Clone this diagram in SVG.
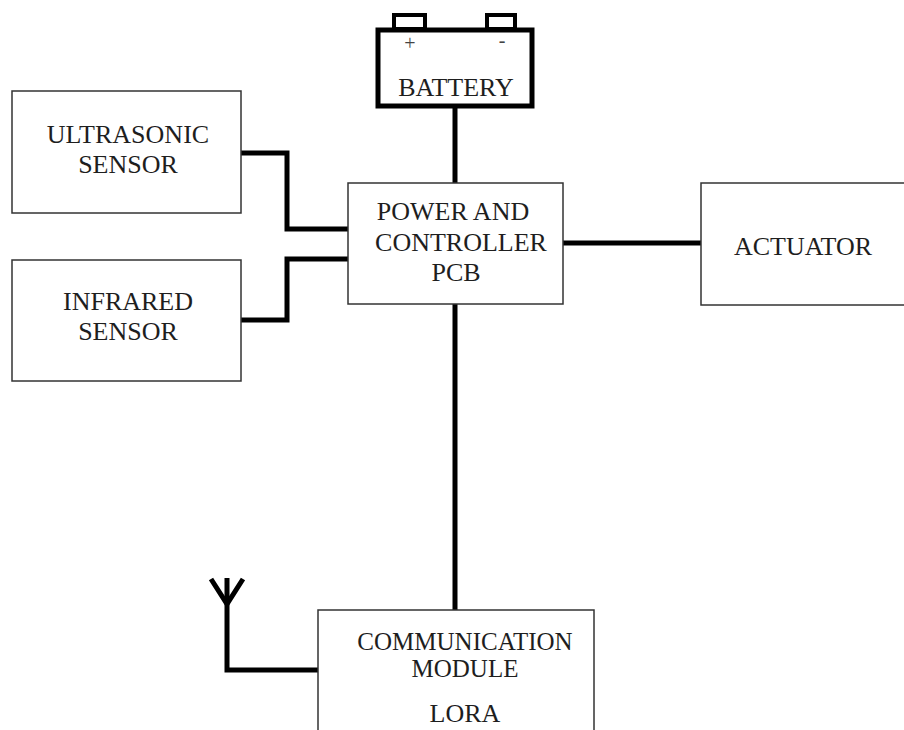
<svg xmlns="http://www.w3.org/2000/svg" width="904" height="730" viewBox="0 0 904 730">
<style>
.box{fill:#fff;stroke:#333;stroke-width:1.5}
.wire{fill:none;stroke:#000;stroke-width:5;stroke-linejoin:miter;stroke-linecap:butt}
.lbl{font-family:"Liberation Serif","Times New Roman",serif;font-size:26px;fill:#1e1e1e;text-anchor:middle}
.cm{font-size:25px}
.sm{font-family:"Liberation Serif","Times New Roman",serif;font-size:20px;fill:#444;text-anchor:middle}
</style>
<rect width="904" height="730" fill="#fff"/>
<g id="connectors">
<line class="wire" x1="455" y1="108" x2="455" y2="183"/>
<polyline class="wire" points="241,153 287,153 287,229 348,229"/>
<polyline class="wire" points="241,320 287,320 287,259 348,259"/>
<line class="wire" x1="563" y1="243" x2="701" y2="243"/>
<line class="wire" x1="455" y1="304" x2="455" y2="610"/>
<polyline class="wire" points="318,670 227,670 227,578"/>
<polyline class="wire" points="211,579 227,604 243,579"/>
</g>
<g id="battery">
<rect x="394" y="15" width="31" height="14" fill="#fff" stroke="#000" stroke-width="4"/>
<rect x="487" y="15" width="28" height="14" fill="#fff" stroke="#000" stroke-width="4"/>
<rect x="378" y="30" width="154" height="76" fill="#fff" stroke="#000" stroke-width="5"/>
<text class="sm" x="410" y="50">+</text>
<text class="sm" x="502" y="47">-</text>
<text class="lbl" x="456" y="96">BATTERY</text>
</g>
<g id="ultrasonic">
<rect class="box" x="12" y="91" width="229" height="122"/>
<text class="lbl" x="128" y="143">ULTRASONIC</text>
<text class="lbl" x="128" y="173">SENSOR</text>
</g>
<g id="infrared">
<rect class="box" x="12" y="260" width="229" height="121"/>
<text class="lbl" x="128" y="310">INFRARED</text>
<text class="lbl" x="128" y="340">SENSOR</text>
</g>
<g id="pcb">
<rect class="box" x="348" y="183" width="215" height="121"/>
<text class="lbl" x="453" y="220">POWER AND</text>
<text class="lbl" x="461" y="251">CONTROLLER</text>
<text class="lbl" x="456" y="281">PCB</text>
</g>
<g id="actuator">
<rect class="box" x="701" y="183" width="210" height="122"/>
<text class="lbl" x="803" y="255">ACTUATOR</text>
</g>
<g id="comm">
<rect class="box" x="318" y="610" width="276" height="130"/>
<text class="lbl cm" x="465" y="650">COMMUNICATION</text>
<text class="lbl cm" x="465" y="677">MODULE</text>
<text class="lbl" x="465" y="722">LORA</text>
</g>
</svg>
